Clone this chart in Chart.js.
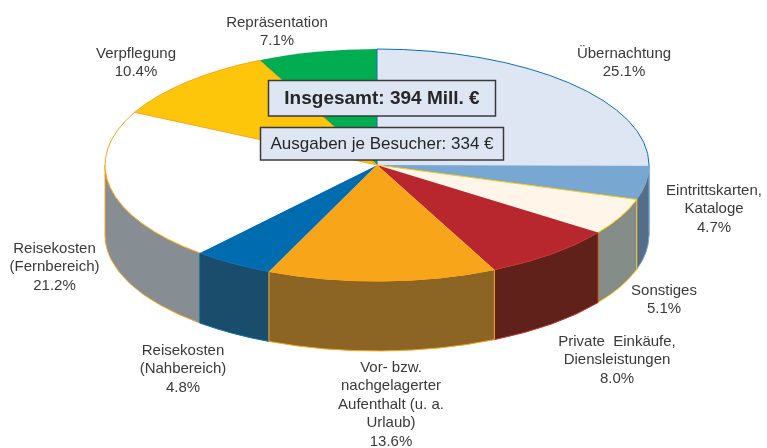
<!DOCTYPE html>
<html>
<head>
<meta charset="utf-8">
<style>
  html, body { margin: 0; padding: 0; background: #fff; }
  canvas { display: block; }
</style>
<script src="https://cdn.jsdelivr.net/npm/chart.js@4"></script>
</head>
<body>
<canvas id="pie" width="767" height="448"></canvas>
<script>
const categories = ['Übernachtung', 'Eintrittskarten, Kataloge', 'Sonstiges', 'Private Einkäufe, Diensleistungen',
    'Vor- bzw. nachgelagerter Aufenthalt (u. a. Urlaub)', 'Reisekosten (Nahbereich)', 'Reisekosten (Fernbereich)',
    'Verpflegung', 'Repräsentation'];
const shares = [25.1, 4.7, 5.1, 8.0, 13.6, 4.8, 21.2, 10.4, 7.1];
const labelLines = [
    ['Übernachtung'],
    ['Eintrittskarten,', 'Kataloge'],
    ['Sonstiges'],
    ['Private  Einkäufe,', 'Diensleistungen'],
    ['Vor- bzw.', 'nachgelagerter', 'Aufenthalt (u. a.', 'Urlaub)'],
    ['Reisekosten', '(Nahbereich)'],
    ['Reisekosten', '(Fernbereich)'],
    ['Verpflegung'],
    ['Repräsentation']
];
const totalText = 'Insgesamt: 394 Mill. €';
const perVisitorText = 'Ausgaben je Besucher: 334 €';

// colours
const topColors = ['#dfe6f3', '#78a8d2', '#fff6e9', '#b9272e', '#f9a51a', '#006cb0', '#ffffff', '#fdc60b', '#00ad50'];
const wallColors = ['#546e8a', '#546e8a', '#848d87', '#60211a', '#8c6524', '#1a4d6b', '#868d93', '#ffffff', '#ffffff'];
const arcEdges = ['#0a70b0', null, '#fdc80d', '#c0392f', '#f9a51a', '#0a70b0', '#f9a51a', '#f9a51a', null];
const radialEdges = ['#0a70b0', null, '#fdc80d', null, null, null, null, '#f9a51a', '#f9a51a'];
const wallEdges = ['#7aa8d2', '#7aa8d2', '#fdc80d', '#c0392f', '#f9a51a', '#0a70b0', '#f9a51a', null, null];

// layout of the squashed pie
const pieX = 377, pieY = 165, pieRx = 272, pieRy = 116, pieDepth = 70;
const wallOrder = [0, 1, 2, 3, 6, 5, 4];
const labelCentres = [[624, 53.5], [714, 190.5], [664, 290.5], [617, 341.5], [391, 367.5], [183, 350.5], [54.5, 248.5], [136, 53.5], [277, 22.5]];
const lineStep = 18.6;

function wallPath(ctx, from, to, dy) {
    ctx.beginPath();
    ctx.ellipse(pieX, pieY, pieRx, pieRy, 0, from, to, false);
    ctx.lineTo(pieX + pieRx * Math.cos(to), pieY + dy + pieRy * Math.sin(to));
    ctx.ellipse(pieX, pieY + dy, pieRx, pieRy, 0, to, from, true);
    ctx.closePath();
}

function drawBox(ctx, x, y, w, h, text, font) {
    ctx.fillStyle = '#dfe6f3';
    ctx.fillRect(x, y, w, h);
    ctx.strokeStyle = '#3a3a3c';
    ctx.lineWidth = 1.5;
    ctx.strokeRect(x, y, w, h);
    ctx.fillStyle = '#262626';
    ctx.font = font;
    ctx.textAlign = 'center';
    ctx.textBaseline = 'middle';
    ctx.fillText(text, x + w / 2, y + h / 2 + 1);
}

const pie3d = {
    id: 'pie3d',
    beforeDatasetsDraw(chart) {
        const ctx = chart.ctx;
        const arcs = chart.getDatasetMeta(0).data;
        wallOrder.forEach(i => {
            const from = Math.max(arcs[i].startAngle, 0);
            const to = Math.min(arcs[i].endAngle, Math.PI);
            if (to <= from) return;
            wallPath(ctx, from, to, pieDepth);
            ctx.fillStyle = wallColors[i];
            ctx.fill();
            if (wallEdges[i]) {
                ctx.strokeStyle = wallEdges[i];
                ctx.lineWidth = 1;
                ctx.stroke();
            }
        });
        // squash the flat pie of the library into the top face
        const a = arcs[0];
        ctx.save();
        ctx.translate(pieX, pieY);
        ctx.scale(pieRx / a.outerRadius, pieRy / a.outerRadius);
        ctx.translate(-a.x, -a.y);
    },
    afterDatasetsDraw(chart) {
        const ctx = chart.ctx;
        const arcs = chart.getDatasetMeta(0).data;
        ctx.restore();
        ctx.lineWidth = 1;
        arcs.forEach((arc, i) => {
            if (arcEdges[i]) {
                ctx.beginPath();
                ctx.ellipse(pieX, pieY, pieRx, pieRy, 0, arc.startAngle, arc.endAngle, false);
                ctx.strokeStyle = arcEdges[i];
                ctx.stroke();
            }
            if (radialEdges[i]) {
                ctx.beginPath();
                ctx.moveTo(pieX + pieRx * Math.cos(arc.startAngle), pieY + pieRy * Math.sin(arc.startAngle));
                ctx.lineTo(pieX, pieY);
                ctx.strokeStyle = radialEdges[i];
                ctx.stroke();
            }
        });
    },
    afterDraw(chart) {
        const ctx = chart.ctx;
        drawBox(ctx, 268.5, 80.5, 227, 35.5, totalText, 'bold 19px "Liberation Sans"');
        drawBox(ctx, 260.5, 127.5, 243, 32.5, perVisitorText, '17px "Liberation Sans"');

        ctx.fillStyle = '#3a3a3c';
        ctx.font = '15px "Liberation Sans"';
        ctx.textAlign = 'center';
        ctx.textBaseline = 'middle';
        labelLines.forEach((lines, i) => {
            const [x, y] = labelCentres[i];
            lines.concat(shares[i].toFixed(1) + '%').forEach((line, n) => {
                ctx.fillText(line, x, y + n * lineStep);
            });
        });
    }
};

new Chart(document.getElementById('pie').getContext('2d'), {
    type: 'pie',
    data: {
        labels: categories,
        datasets: [{
            data: shares,
            backgroundColor: topColors,
            borderWidth: 0
        }]
    },
    options: {
        responsive: false,
        animation: false,
        plugins: { legend: { display: false }, tooltip: { enabled: false } }
    },
    plugins: [pie3d]
});
</script>
</body>
</html>
